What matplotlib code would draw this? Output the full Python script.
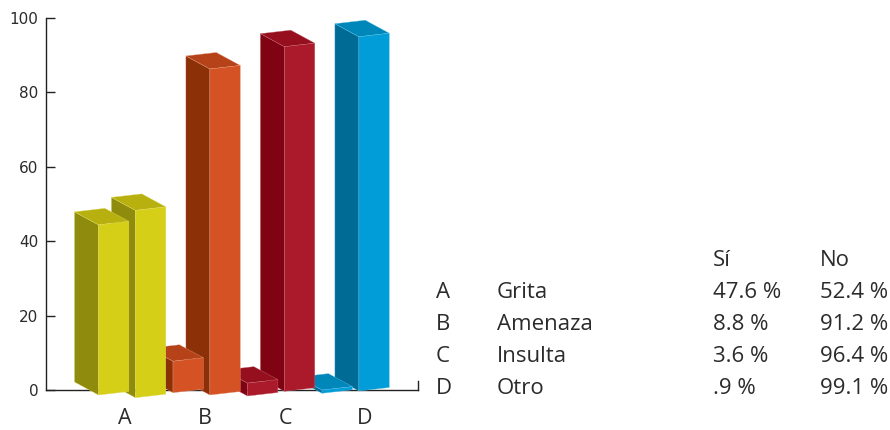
import matplotlib
matplotlib.use("Agg")
import matplotlib.pyplot as plt
from matplotlib.patches import Polygon

categories = ["A", "B", "C", "D"]
names = ["Grita", "Amenaza", "Insulta", "Otro"]
si_values = [47.6, 8.8, 3.6, 0.9]
no_values = [52.4, 91.2, 96.4, 99.1]
si_labels = ["47.6 %", "8.8 %", "3.6 %", ".9 %"]
no_labels = ["52.4 %", "91.2 %", "96.4 %", "99.1 %"]
y_ticks = [0, 20, 40, 60, 80, 100]

# styling / layout constants
W, H = 890, 430
AX_L, AX_R, AX_T, AX_B = 45.5, 418.0, 17.5, 390.3
PX_Y = (AX_B - AX_T) / 100.0
HEIGHT_SCALE = 3.575 / PX_Y
GROUP_PX = 74.5
BAR_STEP_PX = 36.9
FIRST_BAR_PX = 98.5
FRONT_W, FRONT_RISE = 30.4, 3.5
DEPTH_X, DEPTH_Y = -24.0, 13.0
DROP_SI = [4.7, 2.4, 5.7, 3.0]
DROP_NO = [7.4, 4.7, 1.0, 0.7]
LABEL_PX = [125, 205, 285, 365]
COLORS = [
    ("#D6CF17", "#8F8B0D", "#B8B00F", "#E0DA60"),
    ("#D55225", "#8C3007", "#B54218", "#E49A7C"),
    ("#AB1A2A", "#7F0313", "#950F1F", "#C86A74"),
    ("#009DD9", "#006C96", "#0087BA", "#5FC0E6"),
]
TEXT = "#2b2b2b"
SANS = "Open Sans"
SIZE = 16.0

fig = plt.figure(figsize=(W / 100, H / 100), dpi=100)
ax = fig.add_axes([AX_L / W, 1 - AX_B / H, (AX_R - AX_L) / W, (AX_B - AX_T) / H])
ax.set_ylim(0, 100)
ax.set_xlim((AX_L - FIRST_BAR_PX) / GROUP_PX, (AX_R - FIRST_BAR_PX) / GROUP_PX)
ax.patch.set_visible(False)
UX = 1.0 / GROUP_PX
UY = 1.0 / PX_Y


def bar3d(x_px, value, drop, cols):
    front, side, top, edge = cols
    x0 = (x_px - FIRST_BAR_PX) * UX
    w = FRONT_W * UX
    rise = FRONT_RISE * UY
    dx, dy = DEPTH_X * UX, DEPTH_Y * UY
    y0 = -drop * UY
    h = value * HEIGHT_SCALE
    faces = [
        ([(x0, y0), (x0, y0 + h), (x0 + dx, y0 + h + dy), (x0 + dx, y0 + dy)], side),
        ([(x0, y0 + h), (x0 + w, y0 + h + rise), (x0 + w + dx, y0 + h + rise + dy),
          (x0 + dx, y0 + h + dy)], top),
        ([(x0, y0), (x0 + w, y0 + rise), (x0 + w, y0 + h + rise), (x0, y0 + h)], front),
    ]
    for pts, col in faces:
        ax.add_patch(Polygon(pts, closed=True, facecolor=col, edgecolor=edge,
                             linewidth=0.25, clip_on=False, zorder=3, joinstyle="round"))


for i in reversed(range(len(categories))):
    base = FIRST_BAR_PX + i * GROUP_PX
    bar3d(base + BAR_STEP_PX, no_values[i], DROP_NO[i], COLORS[i])
    bar3d(base, si_values[i], DROP_SI[i], COLORS[i])

ax.spines["top"].set_visible(False)
for s in ["left", "bottom", "right"]:
    ax.spines[s].set_linewidth(1.0)
    ax.spines[s].set_color("#222222")
ax.spines["right"].set_bounds(0, 2.6)
ax.set_yticks(y_ticks)
ax.set_yticklabels([str(v) for v in y_ticks], family="DejaVu Sans", fontsize=11, color=TEXT)
ax.tick_params(axis="y", direction="in", length=6.2, width=1.0, color="#222222", pad=5)
ax.set_xticks([(p - FIRST_BAR_PX) * UX for p in LABEL_PX])
ax.set_xticklabels(categories, fontsize=15.5, color=TEXT, family=SANS)
ax.tick_params(axis="x", length=0, pad=13)


def table_text(x, y, s):
    fig.text(x / W, 1 - y / H, s, fontsize=SIZE, color=TEXT, family=SANS,
             ha="left", va="center")


table_text(713, 260, "Sí")
table_text(820, 260, "No")
for r, (c, n, a, b) in enumerate(zip(categories, names, si_labels, no_labels)):
    y = 292 + r * 32
    table_text(436, y, c)
    table_text(497, y, n)
    table_text(713, y, a)
    table_text(820, y, b)

fig.savefig("out.png", dpi=100)
